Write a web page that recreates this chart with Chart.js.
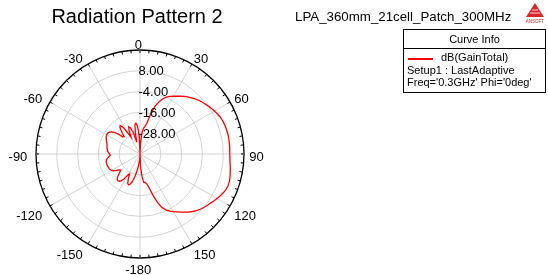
<!DOCTYPE html>
<html>
<head>
<meta charset="utf-8">
<script src="https://cdn.jsdelivr.net/npm/chart.js@4"></script>
<style>
  html, body { margin: 0; padding: 0; background: #fff; }
  body { width: 548px; height: 275px; position: relative; overflow: hidden;
         font-family: "Liberation Sans", Arial, sans-serif; }
  #plot { position: absolute; left: 0; top: 0; }
  .title { position: absolute; left: 37px; top: 5px; width: 200px; text-align: center; font-size: 20px; }
  .sub { position: absolute; left: 295px; top: 9px; font-size: 13.3px; }
  .info { position: absolute; left: 403px; top: 29px; width: 141px; height: 62px;
          border: 1px solid #000; font-size: 11px; }
  .info .head { height: 18px; line-height: 18px; text-align: center; border-bottom: 1px solid #000; }
  .info .row { position: absolute; left: 3px; white-space: nowrap; }
  .info .swatch { position: absolute; left: 4px; top: 28px; width: 25px; height: 2px; background: #ff0000; }
  .logo { position: absolute; left: 524px; top: 2px; }
</style>
</head>
<body>
<canvas id="plot" width="548" height="275"></canvas>
<div class="title">Radiation Pattern 2</div>
<div class="sub">LPA_360mm_21cell_Patch_300MHz</div>
<div class="info">
  <div class="head">Curve Info</div>
  <div class="swatch"></div>
  <div class="row" style="left:37px; top:21px;">dB(GainTotal)</div>
  <div class="row" style="top:34px;">Setup1 : LastAdaptive</div>
  <div class="row" style="top:46px;">Freq='0.3GHz' Phi='0deg'</div>
</div>
<svg class="logo" width="22" height="22" viewBox="0 0 22 22">
  <polygon points="11,1 20,15 2,15" fill="#d9262b"/>
  <line x1="6" y1="11" x2="16" y2="11" stroke="#fff" stroke-width="0.8"/>
  <line x1="8" y1="8" x2="14" y2="8" stroke="#fff" stroke-width="0.8"/>
  <text x="11" y="20.5" font-size="4.5" text-anchor="middle" fill="#d9262b" font-family="Liberation Sans, Arial">ANSOFT</text>
</svg>
<script>
// theta sampling (deg, clockwise from top) and gain in dB
const thetaStep = 2.5;
const theta = [];
for (let a = 0; a < 360; a += thetaStep) theta.push(a);

const gainTotal = [
  -40, -34, -28, -25, -24, -22, -16, -11, -8, -5.5, -3.8, -2.5,
  -1.5, -0.5, 0.8, 1.9, 3.0, 4.0, 5.0, 5.9, 6.7, 7.4, 8.2, 8.9,
  9.6, 10.3, 10.9, 11.3, 11.6, 11.8, 11.9, 12.0, 12.0, 11.9, 11.9, 11.8,
  11.8, 11.9, 12.1, 12.5, 12.9, 13.3, 13.7, 14.0, 14.0, 13.6, 13.0, 12.2,
  11.3, 10.5, 9.6, 8.8, 8.0, 7.2, 6.2, 5.0, 3.8, 2.2, 1.0, -0.4,
  -1.6, -2.8, -4.2, -6.5, -10, -15, -20, -22.5, -23.5, -23.5, -27, -33,
  -40, -38, -36, -33, -30, -27, -24, -22, -21, -21.5, -24, -27,
  -26, -23, -21, -20.2, -20, -20.5, -22, -24, -25.5, -25, -23.5, -22,
  -21, -20.5, -20.3, -20.2, -20, -20, -20, -20, -20.3, -21, -22, -22.8,
  -22.5, -21.8, -21.2, -21, -20.7, -20.5, -20.3, -20, -19.5, -19, -18.5, -18,
  -17.8, -17.8, -18.2, -19, -20.5, -23, -26, -26.5, -24, -21, -20, -21.5,
  -26, -29, -25, -23, -24, -27, -33, -28, -23, -22, -24, -30
];

const angleTicks = [0, 30, 60, 90, 120, 150, -180, -150, -120, -90, -60, -30];
const radialTicks = [-28, -16, -4, 8];
const rMin = -40, rMax = 20, rStep = 12;

const FONT = '13px "Liberation Sans", Arial, sans-serif';

// outer-circle minor ticks, angle labels, radial labels
const polarDecor = {
  id: 'polarDecor',
  afterDatasetsDraw(chart) {
    const s = chart.scales.r;
    const ctx = chart.ctx;
    const R = s.drawingArea;
    const cx = s.xCenter, cy = s.yCenter;
    ctx.save();
    ctx.strokeStyle = '#000';
    ctx.lineWidth = 1;
    theta.forEach((a, i) => {
      if (a % 5 !== 0) return;
      const p1 = s.getPointPosition(i, R);
      const p2 = s.getPointPosition(i, R - 3);
      ctx.beginPath();
      ctx.moveTo(p1.x, p1.y);
      ctx.lineTo(p2.x, p2.y);
      ctx.stroke();
    });

    ctx.fillStyle = '#000';
    ctx.font = FONT;
    const capH = 9.3;
    theta.forEach((a, i) => {
      if (a % 30 !== 0) return;
      const text = String(angleTicks[a / 30]);
      const ang = s.getIndexAngle(i);
      const sn = Math.sin(ang), cs = Math.cos(ang);
      const ax = cx - 1.75 + (R + 6.9) * sn;
      const ay = cy + 2.5 - (R + 4) * cs;
      ctx.textAlign = Math.abs(sn) < 1e-6 ? 'center' : (sn > 0 ? 'left' : 'right');
      ctx.textBaseline = 'alphabetic';
      let by;
      if (Math.abs(cs) < 1e-6) by = ay + capH / 2;
      else if (cs > 0) by = ay;
      else by = ay + capH;
      ctx.fillText(text, ax, by);
    });

    ctx.textAlign = 'left';
    ctx.textBaseline = 'middle';
    radialTicks.forEach(v => {
      const d = s.getDistanceFromCenterForValue(v);
      ctx.fillText(v.toFixed(2), cx - 1.5, cy - d + 1);
    });
    ctx.restore();
  }
};

new Chart(document.getElementById('plot'), {
  type: 'radar',
  data: {
    labels: theta,
    datasets: [{
      label: 'dB(GainTotal)',
      data: gainTotal,
      borderColor: '#ff0000',
      borderWidth: 1.3,
      pointRadius: 0,
      fill: false,
      tension: 0
    }]
  },
  options: {
    responsive: false,
    animation: false,
    layout: { padding: { left: 36, right: 304, top: 50, bottom: 17 } },
    plugins: { legend: { display: false }, tooltip: { enabled: false } },
    scales: {
      r: {
        min: rMin,
        max: rMax,
        startAngle: 0,
        ticks: { stepSize: rStep, display: false },
        grid: {
          circular: true,
          color: c => c.tick && c.tick.value === rMax ? '#000' : '#d2d2d2',
          lineWidth: c => c.tick && c.tick.value === rMax ? 1.3 : 1
        },
        angleLines: {
          color: '#d2d2d2',
          lineWidth: c => (c.index * thetaStep) % 30 === 0 ? 1 : 0
        },
        pointLabels: { display: false }
      }
    }
  },
  plugins: [polarDecor]
});
</script>
</body>
</html>
